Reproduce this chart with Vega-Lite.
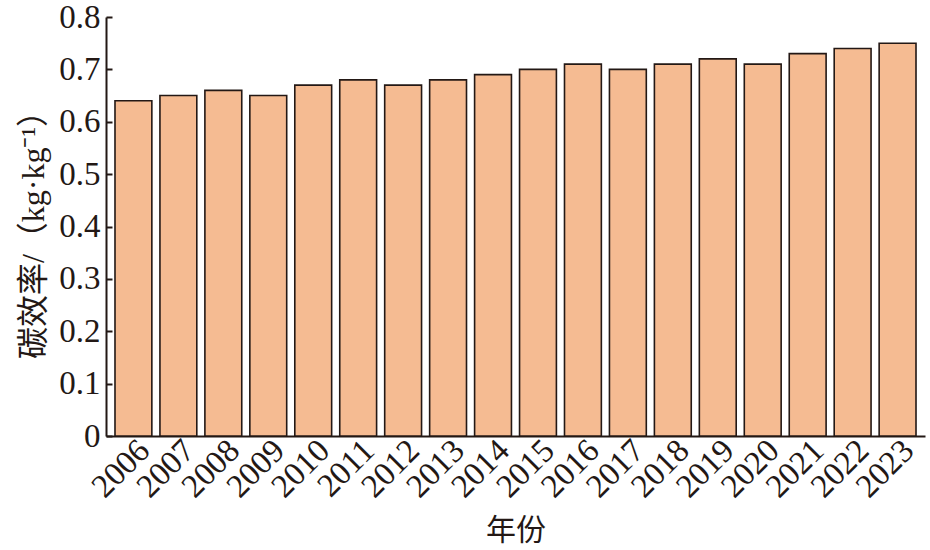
{
  "$schema": "https://vega.github.io/schema/vega-lite/v6.json",
  "width": 819,
  "height": 419,
  "autosize": {"type": "none"},
  "padding": {"left": 106, "top": 17, "right": 5, "bottom": 114},
  "data": {
    "values": [
      {"year": "2006", "value": 0.64},
      {"year": "2007", "value": 0.65},
      {"year": "2008", "value": 0.66},
      {"year": "2009", "value": 0.65},
      {"year": "2010", "value": 0.67},
      {"year": "2011", "value": 0.68},
      {"year": "2012", "value": 0.67},
      {"year": "2013", "value": 0.68},
      {"year": "2014", "value": 0.69},
      {"year": "2015", "value": 0.70},
      {"year": "2016", "value": 0.71},
      {"year": "2017", "value": 0.70},
      {"year": "2018", "value": 0.71},
      {"year": "2019", "value": 0.72},
      {"year": "2020", "value": 0.71},
      {"year": "2021", "value": 0.73},
      {"year": "2022", "value": 0.74},
      {"year": "2023", "value": 0.75}
    ]
  },
  "mark": {
    "type": "bar",
    "fill": "#F5BB92",
    "stroke": "#231815",
    "strokeWidth": 1.6
  },
  "encoding": {
    "x": {
      "field": "year",
      "type": "ordinal",
      "title": "年份",
      "scale": {"paddingInner": 0.18, "paddingOuter": 0.2},
      "axis": {
        "labelAngle": -45,
        "labelAlign": "right",
        "labelBaseline": "middle",
        "labelFontSize": 33,
        "labelPadding": 9,
        "labelOffset": 11,
        "ticks": false,
        "titleFontSize": 30,
        "titlePadding": 12,
        "titleFontWeight": "normal"
      }
    },
    "y": {
      "field": "value",
      "type": "quantitative",
      "title": "碳效率/（kg·kg⁻¹）",
      "scale": {"domain": [0, 0.8]},
      "axis": {
        "values": [0, 0.1, 0.2, 0.3, 0.4, 0.5, 0.6, 0.7, 0.8],
        "labelExpr": "datum.value == 0 ? '0' : format(datum.value, '.1f')",
        "grid": false,
        "tickSize": -6,
        "labelPadding": 12,
        "labelFontSize": 33,
        "titleFontSize": 32,
        "titleFontWeight": "normal",
        "titlePadding": 8
      }
    }
  },
  "config": {
    "view": {"stroke": null},
    "font": "Liberation Serif",
    "axis": {
      "domainColor": "#231815",
      "domainWidth": 2,
      "tickColor": "#231815",
      "tickWidth": 2,
      "labelColor": "#231815",
      "titleColor": "#231815",
      "labelFont": "Liberation Serif",
      "titleFont": "Liberation Serif, Noto Sans CJK SC"
    }
  }
}
